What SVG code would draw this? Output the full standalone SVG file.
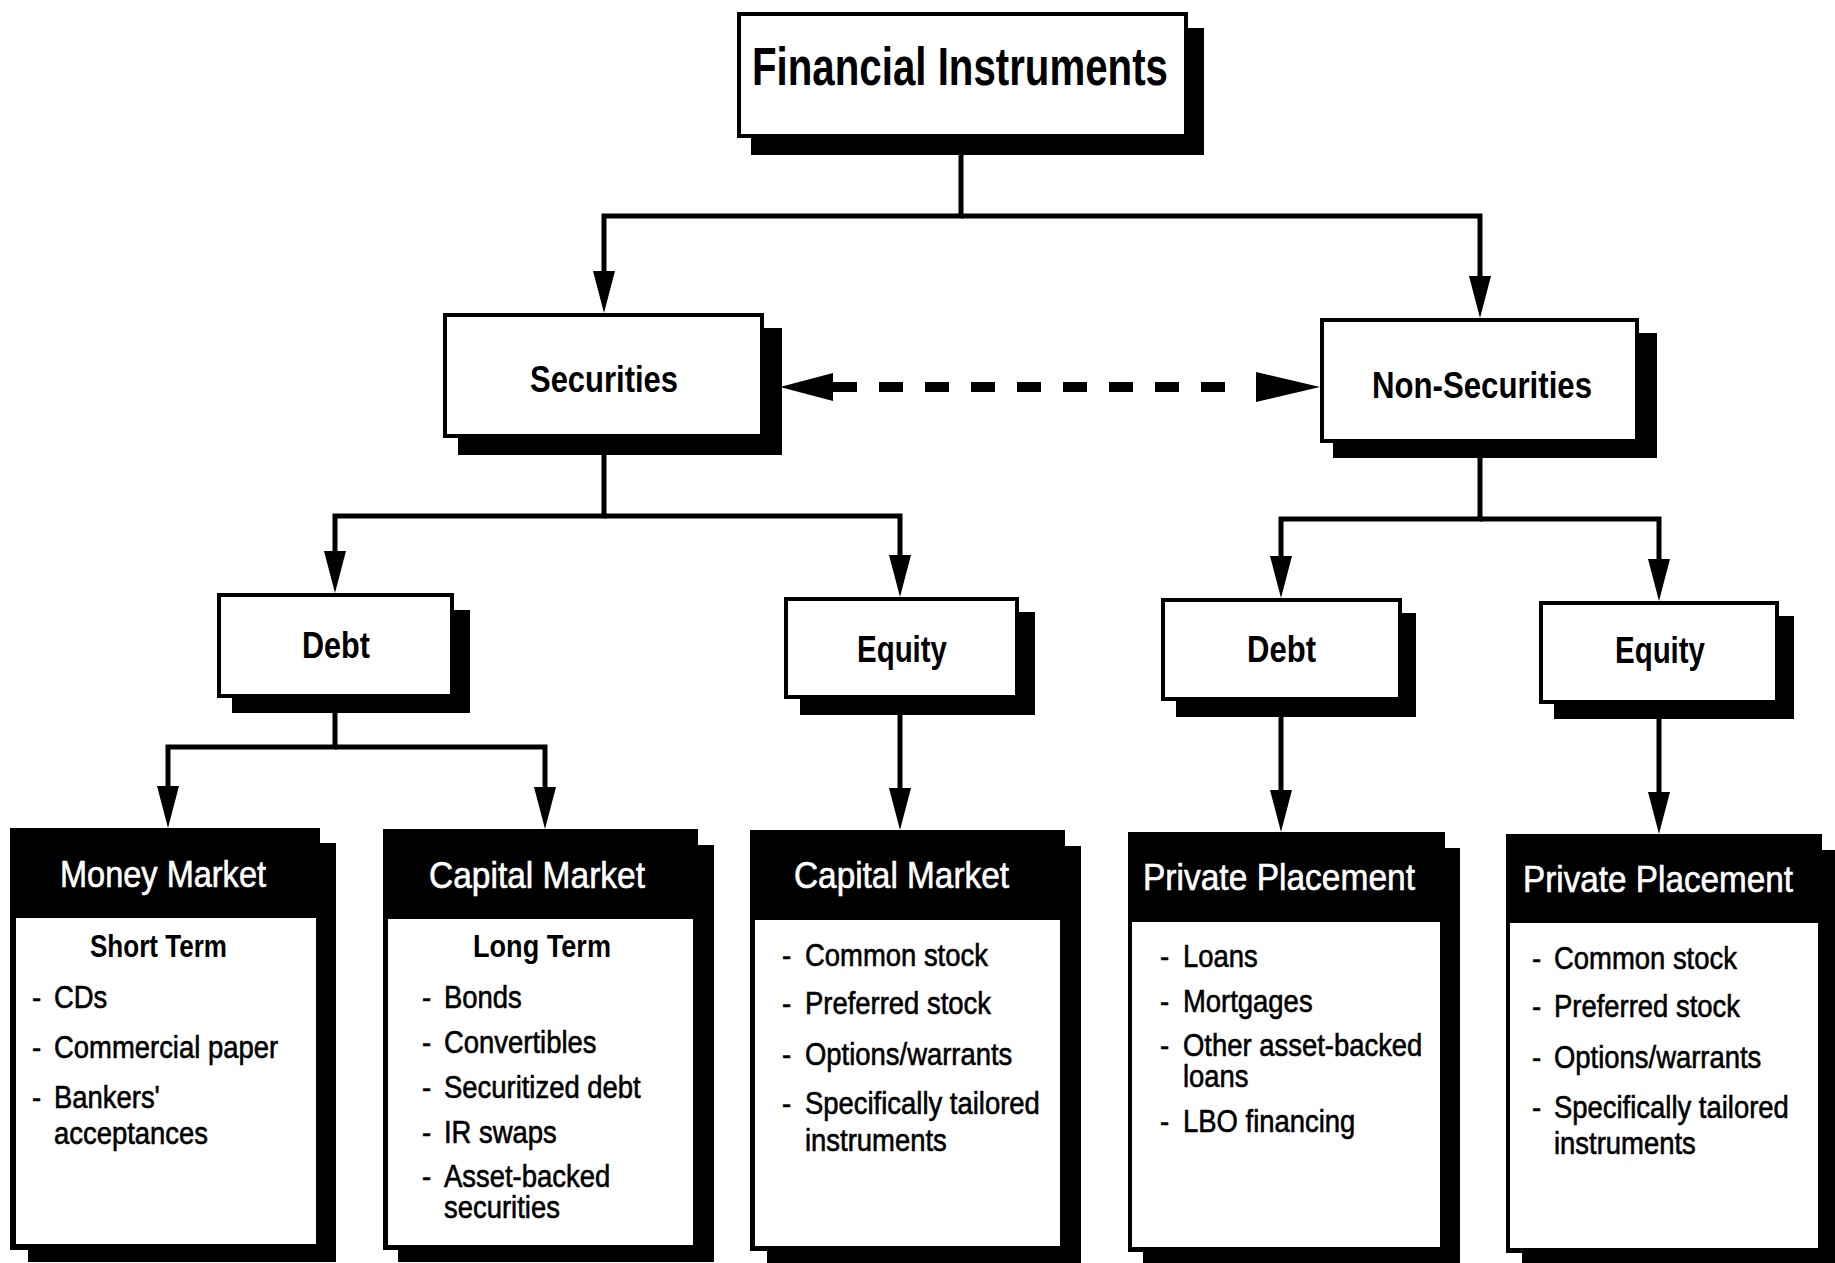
<svg xmlns="http://www.w3.org/2000/svg" width="1835" height="1263" viewBox="0 0 1835 1263">
<defs>
<style>
.shadow{fill:#000}
.box{fill:#fff;stroke:#000;stroke-width:4}
.blk{fill:#000}
.wht{fill:#fff}
.title{font-family:"Liberation Sans",Arial,sans-serif;font-weight:bold;font-size:36px;fill:#000}
.sub{font-family:"Liberation Sans",Arial,sans-serif;font-weight:bold;font-size:32px;fill:#000}
.head{font-family:"Liberation Sans",Arial,sans-serif;font-size:36px;fill:#fff;stroke:#fff;stroke-width:0.6}
.item{font-family:"Liberation Sans",Arial,sans-serif;font-size:31px;fill:#000;stroke:#000;stroke-width:0.6}
.conn{stroke:#000;stroke-width:5;fill:none}
.dash{stroke:#000;stroke-width:10;fill:none;stroke-dasharray:24 22}
.ah{fill:#000}
</style>
<marker id="arr" markerUnits="userSpaceOnUse" viewBox="0 0 42 22" markerWidth="42" markerHeight="22" refX="22" refY="11" orient="auto">
<path d="M0,0 L42,11 L0,22 z" fill="#000"/>
</marker>
</defs>
<rect width="1835" height="1263" fill="#fff"/>

<g id="connectors">
<path class="conn" d="M961,155 V216 H604 V293" marker-end="url(#arr)"/>
<path class="conn" d="M961,216 H1480 V298" marker-end="url(#arr)"/>
<path class="conn" d="M604,455 V516 H335 V573" marker-end="url(#arr)"/>
<path class="conn" d="M604,516 H900 V577" marker-end="url(#arr)"/>
<path class="conn" d="M1480,458 V519 H1281 V578" marker-end="url(#arr)"/>
<path class="conn" d="M1480,519 H1659 V581" marker-end="url(#arr)"/>
<path class="conn" d="M335,713 V747 H168 V808" marker-end="url(#arr)"/>
<path class="conn" d="M335,747 H545 V809" marker-end="url(#arr)"/>
<path class="conn" d="M900,715 V810" marker-end="url(#arr)"/>
<path class="conn" d="M1281,717 V812" marker-end="url(#arr)"/>
<path class="conn" d="M1659,719 V814" marker-end="url(#arr)"/>
<g id="sec-nonsec">
<polygon class="ah" points="780,387 833,373 833,401"/>
<path class="dash" d="M833,387 H1226"/>
<polygon class="ah" points="1256,372 1320,387 1256,402"/>
</g>
</g>

<g id="financial-instruments">
<rect class="shadow" x="751" y="28" width="453" height="127"/>
<rect class="box" x="739" y="14" width="447" height="122"/>
<text class="title" style="font-size:54px" x="752" y="85" textLength="416" lengthAdjust="spacingAndGlyphs">Financial Instruments</text>
</g>

<g id="securities">
<rect class="shadow" x="458" y="328" width="324" height="127"/>
<rect class="box" x="445" y="315" width="317" height="121"/>
<text class="title" x="530" y="392" textLength="148" lengthAdjust="spacingAndGlyphs">Securities</text>
</g>

<g id="non-securities">
<rect class="shadow" x="1333" y="333" width="324" height="125"/>
<rect class="box" x="1322" y="320" width="315" height="121"/>
<text class="title" x="1372" y="398" textLength="220" lengthAdjust="spacingAndGlyphs">Non-Securities</text>
</g>

<g id="sec-debt">
<rect class="shadow" x="232" y="610" width="238" height="103"/>
<rect class="box" x="219" y="595" width="233" height="101"/>
<text class="title" x="302" y="658" textLength="68" lengthAdjust="spacingAndGlyphs">Debt</text>
</g>

<g id="sec-equity">
<rect class="shadow" x="800" y="612" width="235" height="103"/>
<rect class="box" x="786" y="599" width="231" height="98"/>
<text class="title" x="857" y="662" textLength="90" lengthAdjust="spacingAndGlyphs">Equity</text>
</g>

<g id="nonsec-debt">
<rect class="shadow" x="1176" y="613" width="240" height="104"/>
<rect class="box" x="1163" y="600" width="237" height="99"/>
<text class="title" x="1247" y="662" textLength="69" lengthAdjust="spacingAndGlyphs">Debt</text>
</g>

<g id="nonsec-equity">
<rect class="shadow" x="1554" y="616" width="240" height="103"/>
<rect class="box" x="1541" y="603" width="236" height="99"/>
<text class="title" x="1615" y="663" textLength="90" lengthAdjust="spacingAndGlyphs">Equity</text>
</g>

<g id="money-market">
<rect class="shadow" x="28" y="843" width="308" height="419"/>
<rect class="blk" x="10" y="828" width="310" height="422"/>
<rect class="wht" x="16" y="918" width="300" height="326"/>
<text class="head" x="60" y="887" textLength="206" lengthAdjust="spacingAndGlyphs">Money Market</text>
<text class="sub" x="90" y="957" textLength="137" lengthAdjust="spacingAndGlyphs">Short Term</text>
<g transform="translate(54,0) scale(0.885,1)">
<text class="item" x="-25" y="1008">-</text><text class="item" x="0" y="1008">CDs</text>
<text class="item" x="-25" y="1058">-</text><text class="item" x="0" y="1058">Commercial paper</text>
<text class="item" x="-25" y="1108">-</text><text class="item" x="0" y="1108">Bankers'</text>
<text class="item" x="0" y="1144">acceptances</text>
</g>
</g>

<g id="capital-market-debt">
<rect class="shadow" x="398" y="845" width="316" height="417"/>
<rect class="blk" x="383" y="829" width="315" height="421"/>
<rect class="wht" x="388" y="919" width="305" height="326"/>
<text class="head" x="429" y="888" textLength="216" lengthAdjust="spacingAndGlyphs">Capital Market</text>
<text class="sub" x="473" y="957" textLength="138" lengthAdjust="spacingAndGlyphs">Long Term</text>
<g transform="translate(444,0) scale(0.885,1)">
<text class="item" x="-25" y="1008">-</text><text class="item" x="0" y="1008">Bonds</text>
<text class="item" x="-25" y="1053">-</text><text class="item" x="0" y="1053">Convertibles</text>
<text class="item" x="-25" y="1098">-</text><text class="item" x="0" y="1098">Securitized debt</text>
<text class="item" x="-25" y="1143">-</text><text class="item" x="0" y="1143">IR swaps</text>
<text class="item" x="-25" y="1187">-</text><text class="item" x="0" y="1187">Asset-backed</text>
<text class="item" x="0" y="1218">securities</text>
</g>
</g>

<g id="capital-market-equity">
<rect class="shadow" x="767" y="846" width="314" height="417"/>
<rect class="blk" x="750" y="830" width="315" height="421"/>
<rect class="wht" x="755" y="920" width="305" height="326"/>
<text class="head" x="794" y="888" textLength="215" lengthAdjust="spacingAndGlyphs">Capital Market</text>
<g transform="translate(805,0) scale(0.885,1)">
<text class="item" x="-26" y="966">-</text><text class="item" x="0" y="966">Common stock</text>
<text class="item" x="-26" y="1014">-</text><text class="item" x="0" y="1014">Preferred stock</text>
<text class="item" x="-26" y="1065">-</text><text class="item" x="0" y="1065">Options/warrants</text>
<text class="item" x="-26" y="1114">-</text><text class="item" x="0" y="1114">Specifically tailored</text>
<text class="item" x="0" y="1151">instruments</text>
</g>
</g>

<g id="private-placement-debt">
<rect class="shadow" x="1143" y="848" width="317" height="415"/>
<rect class="blk" x="1128" y="832" width="317" height="420"/>
<rect class="wht" x="1132" y="922" width="308" height="325"/>
<text class="head" x="1143" y="890" textLength="272" lengthAdjust="spacingAndGlyphs">Private Placement</text>
<g transform="translate(1183,0) scale(0.885,1)">
<text class="item" x="-26" y="967">-</text><text class="item" x="0" y="967">Loans</text>
<text class="item" x="-26" y="1012">-</text><text class="item" x="0" y="1012">Mortgages</text>
<text class="item" x="-26" y="1056">-</text><text class="item" x="0" y="1056">Other asset-backed</text>
<text class="item" x="0" y="1087">loans</text>
<text class="item" x="-26" y="1132">-</text><text class="item" x="0" y="1132">LBO financing</text>
</g>
</g>

<g id="private-placement-equity">
<rect class="shadow" x="1522" y="850" width="313" height="413"/>
<rect class="blk" x="1506" y="834" width="316" height="419"/>
<rect class="wht" x="1510" y="923" width="308" height="325"/>
<text class="head" x="1523" y="892" textLength="270" lengthAdjust="spacingAndGlyphs">Private Placement</text>
<g transform="translate(1554,0) scale(0.885,1)">
<text class="item" x="-25" y="969">-</text><text class="item" x="0" y="969">Common stock</text>
<text class="item" x="-25" y="1017">-</text><text class="item" x="0" y="1017">Preferred stock</text>
<text class="item" x="-25" y="1068">-</text><text class="item" x="0" y="1068">Options/warrants</text>
<text class="item" x="-25" y="1118">-</text><text class="item" x="0" y="1118">Specifically tailored</text>
<text class="item" x="0" y="1154">instruments</text>
</g>
</g>
</svg>
